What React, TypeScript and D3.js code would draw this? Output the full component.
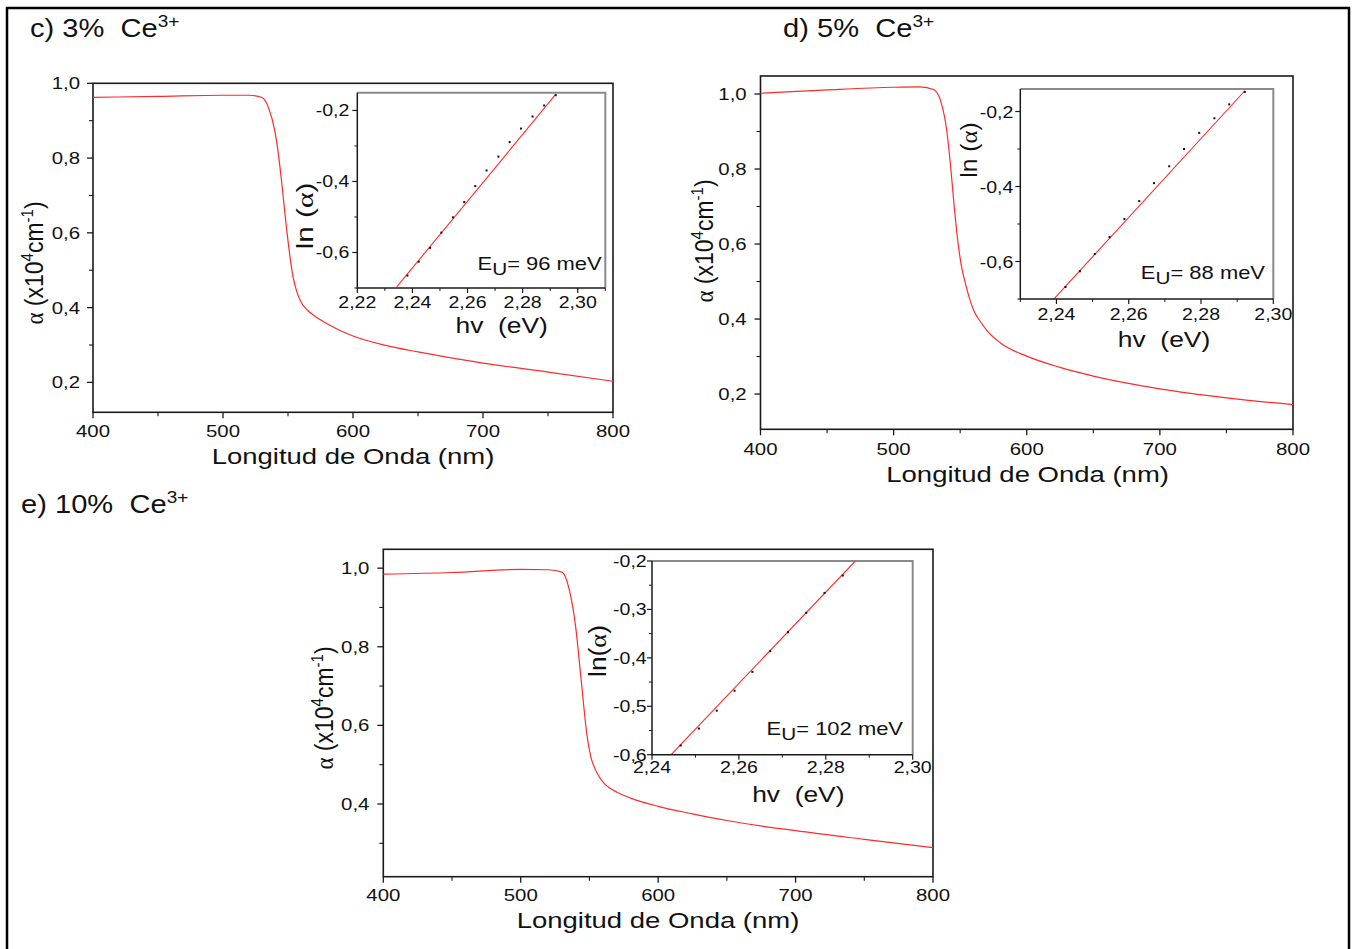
import React from "react";
import * as d3 from "d3";

// absorption spectra
const wavelength = [400, 450, 500, 520, 530, 535, 540, 543, 545, 548, 551, 554, 557, 560, 565, 570, 580, 600, 625, 650, 700, 750, 800];
const alpha3 = [0.9625, 0.965, 0.968, 0.968, 0.962, 0.935, 0.87, 0.8, 0.74, 0.64, 0.55, 0.48, 0.44, 0.415, 0.393, 0.379, 0.357, 0.324, 0.299, 0.2815, 0.2515, 0.2275, 0.203];
const alpha5 = [1.002, 1.011, 1.018, 1.019, 1.012, 0.985, 0.9, 0.8, 0.72, 0.614, 0.54, 0.494, 0.455, 0.424, 0.394, 0.37, 0.337, 0.301, 0.271, 0.248, 0.214, 0.19, 0.172];
const alpha10 = [0.985, 0.989, 0.997, 0.996, 0.99, 0.95, 0.85, 0.75, 0.68, 0.58, 0.52, 0.49, 0.47, 0.455, 0.44, 0.43, 0.415, 0.394, 0.375, 0.358, 0.332, 0.31, 0.289];

// Urbach insets
const hv3 = [2.2382, 2.2423, 2.2464, 2.2505, 2.2547, 2.2588, 2.2628, 2.2669, 2.2712, 2.2753, 2.2794, 2.2836, 2.2878, 2.292];
const lnAlpha3 = [-0.665, -0.626, -0.587, -0.544, -0.501, -0.458, -0.413, -0.369, -0.33, -0.289, -0.251, -0.217, -0.186, -0.157];
const fitHv3 = [2.2343, 2.292];
const fitLn3 = [-0.697, -0.155];

const hv5 = [2.2425, 2.2465, 2.2506, 2.2547, 2.2588, 2.2629, 2.267, 2.2712, 2.2753, 2.2795, 2.2837, 2.2878, 2.2921];
const lnAlpha5 = [-0.668, -0.626, -0.58, -0.535, -0.487, -0.439, -0.391, -0.346, -0.3, -0.257, -0.218, -0.181, -0.148];
const fitHv5 = [2.2392, 2.2922];
const fitLn5 = [-0.701, -0.144];

const hv10 = [2.2466, 2.2508, 2.2549, 2.259, 2.2631, 2.2672, 2.2713, 2.2755, 2.2797, 2.2839];
const lnAlpha10 = [-0.581, -0.546, -0.509, -0.468, -0.429, -0.386, -0.347, -0.307, -0.266, -0.23];
const fitHv10 = [2.2444, 2.2868];
const fitLn10 = [-0.6, -0.2];

const xTicks = [400, 500, 600, 700, 800];
const xMinor = [450, 550, 650, 750];
const titles = ["c) 3%  Ce", "d) 5%  Ce", "e) 10%  Ce"];
const urbach = ["96", "88", "102"];

const FONT = "'Liberation Sans', Arial, sans-serif";
const SERIF = "'Liberation Serif', 'DejaVu Serif', serif";
const RED = "#ff2a2a";
const AXIS = "#1a1a1a";

const loc = d3.formatLocale({ decimal: ",", thousands: ".", grouping: [3], currency: ["", ""], minus: "-" });
const f1 = loc.format(".1f");
const f2 = loc.format(".2f");

// text stretched like the scanned figure
function SText({ x, y, size, anchor = "start", sx = 1.2, sy = 1, rotate = 0, children }: any) {
  const tr = `translate(${x},${y}) scale(${sx},${sy})` + (rotate ? ` rotate(${rotate})` : "");
  return (
    <text transform={tr} fontSize={size} textAnchor={anchor} fontFamily={FONT} fill="#111" style={{ whiteSpace: "pre" }}>
      {children}
    </text>
  );
}

const panels = [
  {
    x0: 93, x1: 613, y0: 83.3, y1: 412.3, yDom: [0.12, 1.0],
    yTicks: [0.2, 0.4, 0.6, 0.8, 1.0], yMinor: [0.3, 0.5, 0.7, 0.9],
    alpha: alpha3, title: [30, 37], xTitle: [353, 464], tickBase: 437, yLab: [35, 263], yTickRight: 80,
    inset: {
      x0: 357.3, x1: 605.3, y0: 92.7, y1: 288, xDom: [2.22, 2.31], yDom: [-0.7, -0.15],
      xTicks: [2.22, 2.24, 2.26, 2.28, 2.3], xMinor: [2.23, 2.25, 2.27, 2.29, 2.31],
      yTicks: [-0.6, -0.4, -0.2], yMinor: [-0.7, -0.5, -0.3],
      hv: hv3, ln: lnAlpha3, fitX: fitHv3, fitY: fitLn3, lnText: "ln (", lnSy: 1.35,
      tickBase: 307.7, yTickRight: 349.3, lnLab: [305, 216], hvLab: [501.7, 332.7], eu: [601.7, 270],
    },
  },
  {
    x0: 760.5, x1: 1293, y0: 76, y1: 429.3, yDom: [0.106, 1.048],
    yTicks: [0.2, 0.4, 0.6, 0.8, 1.0], yMinor: [0.3, 0.5, 0.7, 0.9],
    alpha: alpha5, title: [783, 37], xTitle: [1027.6, 482], tickBase: 455, yLab: [705, 241], yTickRight: 746.7,
    inset: {
      x0: 1020.3, x1: 1273.3, y0: 89, y1: 299, xDom: [2.23, 2.3], yDom: [-0.7, -0.14],
      xTicks: [2.24, 2.26, 2.28, 2.3], xMinor: [2.23, 2.25, 2.27, 2.29],
      yTicks: [-0.6, -0.4, -0.2], yMinor: [-0.7, -0.5, -0.3],
      hv: hv5, ln: lnAlpha5, fitX: fitHv5, fitY: fitLn5, lnText: "ln (", lnSy: 1.12,
      tickBase: 320, yTickRight: 1013.3, lnLab: [969, 150], hvLab: [1164, 346.7], eu: [1265, 279],
    },
  },
  {
    x0: 383.3, x1: 933, y0: 549.3, y1: 876.7, yDom: [0.215, 1.048],
    yTicks: [0.4, 0.6, 0.8, 1.0], yMinor: [0.3, 0.5, 0.7, 0.9],
    alpha: alpha10, title: [21, 513], xTitle: [658, 928], tickBase: 900.7, yLab: [325, 708], yTickRight: 369.4,
    inset: {
      x0: 652, x1: 912.7, y0: 561, y1: 754.7, xDom: [2.24, 2.3], yDom: [-0.6, -0.2],
      xTicks: [2.24, 2.26, 2.28, 2.3], xMinor: [2.25, 2.27, 2.29],
      yTicks: [-0.6, -0.5, -0.4, -0.3, -0.2], yMinor: [-0.55, -0.45, -0.35, -0.25],
      hv: hv10, ln: lnAlpha10, fitX: fitHv10, fitY: fitLn10, lnText: "ln(", lnSy: 1.2,
      tickBase: 772.7, yTickRight: 646.7, lnLab: [598, 651], hvLab: [798.3, 802.3], eu: [903, 735],
    },
  },
];

function Inset({ s, k, eu }: any) {
  const x = d3.scaleLinear().domain(s.xDom).range([s.x0, s.x1]);
  const y = d3.scaleLinear().domain(s.yDom).range([s.y1, s.y0]);
  const fit = d3.line<number>().x((d, i) => x(s.fitX[i])).y(d => y(d));
  return (
    <g>
      <clipPath id={`clip-in-${k}`}>
        <rect x={s.x0} y={s.y0} width={s.x1 - s.x0} height={s.y1 - s.y0} />
      </clipPath>
      <path d={`M${s.x0},${s.y0}H${s.x1}V${s.y1}`} fill="none" stroke="#8a8a8a" strokeWidth={2} />
      <path d={fit(s.fitY) || ""} fill="none" stroke={RED} strokeWidth={1.1} clipPath={`url(#clip-in-${k})`} />
      {s.hv.map((v: number, i: number) => (
        <rect key={i} x={x(v) - 1} y={y(s.ln[i]) - 1} width={2} height={2} fill="#111" />
      ))}
      <line x1={s.x0} x2={s.x0} y1={s.y0} y2={s.y1 + 0.5} stroke={AXIS} strokeWidth={1.5} />
      <line x1={s.x0} x2={s.x1} y1={s.y1} y2={s.y1} stroke={AXIS} strokeWidth={1.5} />
      {s.xTicks.map((t: number) => (
        <g key={t}>
          <line x1={x(t)} x2={x(t)} y1={s.y1} y2={s.y1 + 5} stroke={AXIS} strokeWidth={1.2} />
          <SText x={x(t)} y={s.tickBase} size={17} anchor="middle" sx={1.15}>{f2(t)}</SText>
        </g>
      ))}
      {s.xMinor.map((t: number) => (
        <line key={t} x1={x(t)} x2={x(t)} y1={s.y1} y2={s.y1 + 3} stroke={AXIS} strokeWidth={1} />
      ))}
      {s.yTicks.map((t: number) => (
        <g key={t}>
          <line x1={s.x0 - 5} x2={s.x0} y1={y(t)} y2={y(t)} stroke={AXIS} strokeWidth={1.2} />
          <SText x={s.yTickRight} y={y(t) + 6} size={17} anchor="end" sx={1.15}>{f1(t)}</SText>
        </g>
      ))}
      {s.yMinor.map((t: number) => (
        <line key={t} x1={s.x0 - 3} x2={s.x0} y1={y(t)} y2={y(t)} stroke={AXIS} strokeWidth={1} />
      ))}
      <SText x={s.lnLab[0] + 8} y={s.lnLab[1]} size={22} anchor="middle" rotate={-90} sx={1.05} sy={s.lnSy}>
        {s.lnText}<tspan fontFamily={SERIF}>α</tspan>)
      </SText>
      <SText x={s.hvLab[0]} y={s.hvLab[1]} size={22} anchor="middle" sx={1.2}>hv  (eV)</SText>
      <SText x={s.eu[0]} y={s.eu[1]} size={18} anchor="end" sx={1.22}>
        E<tspan dy={5} fontSize={17}>U</tspan><tspan dy={-5}>= {eu} meV</tspan>
      </SText>
    </g>
  );
}

function Panel({ p, k }: any) {
  const x = d3.scaleLinear().domain([400, 800]).range([p.x0, p.x1]);
  const y = d3.scaleLinear().domain(p.yDom).range([p.y1, p.y0]);
  const line = d3.line<number>().x((d, i) => x(wavelength[i])).y(d => y(d)).curve(d3.curveMonotoneX);
  return (
    <g>
      <rect x={p.x0} y={p.y0} width={p.x1 - p.x0} height={p.y1 - p.y0} fill="none" stroke={AXIS} strokeWidth={1.6} />
      <path d={line(p.alpha) || ""} fill="none" stroke={RED} strokeWidth={1.2} />
      {xTicks.map(t => (
        <g key={t}>
          <line x1={x(t)} x2={x(t)} y1={p.y1} y2={p.y1 + 6} stroke={AXIS} strokeWidth={1.3} />
          <SText x={x(t)} y={p.tickBase} size={17} anchor="middle">{t}</SText>
        </g>
      ))}
      {xMinor.map(t => (
        <line key={t} x1={x(t)} x2={x(t)} y1={p.y1} y2={p.y1 + 4} stroke={AXIS} strokeWidth={1.1} />
      ))}
      {p.yTicks.map((t: number) => (
        <g key={t}>
          <line x1={p.x0 - 6} x2={p.x0} y1={y(t)} y2={y(t)} stroke={AXIS} strokeWidth={1.3} />
          <SText x={p.yTickRight} y={y(t) + 6} size={17} anchor="end">{f1(t)}</SText>
        </g>
      ))}
      {p.yMinor.map((t: number) => (
        <line key={t} x1={p.x0 - 4} x2={p.x0} y1={y(t)} y2={y(t)} stroke={AXIS} strokeWidth={1.1} />
      ))}
      <SText x={p.xTitle[0]} y={p.xTitle[1]} size={22} anchor="middle" sx={1.25}>Longitud de Onda (nm)</SText>
      <SText x={p.yLab[0] + 8} y={p.yLab[1]} size={23} anchor="middle" rotate={-90} sx={1.12}>
        <tspan fontFamily={SERIF}>α</tspan> (x10<tspan dy={-9} fontSize={15}>4</tspan>
        <tspan dy={9}>cm</tspan><tspan dy={-9} fontSize={15}>-1</tspan><tspan dy={9}>)</tspan>
      </SText>
      <SText x={p.title[0]} y={p.title[1]} size={26} sx={1.12}>
        {titles[k]}<tspan dy={-10} fontSize={17}>3+</tspan>
      </SText>
      <Inset s={p.inset} k={k} eu={urbach[k]} />
    </g>
  );
}

export default function App() {
  return (
    <svg width={1352} height={949} style={{ position: "absolute", left: 0, top: 0, background: "#fff" }}>
      <rect x={0} y={0} width={1352} height={949} fill="#fff" />
      <rect x={7} y={8} width={1342} height={960} fill="none" stroke="#000" strokeWidth={2.5} />
      {panels.map((p, k) => <Panel key={k} p={p} k={k} />)}
    </svg>
  );
}
